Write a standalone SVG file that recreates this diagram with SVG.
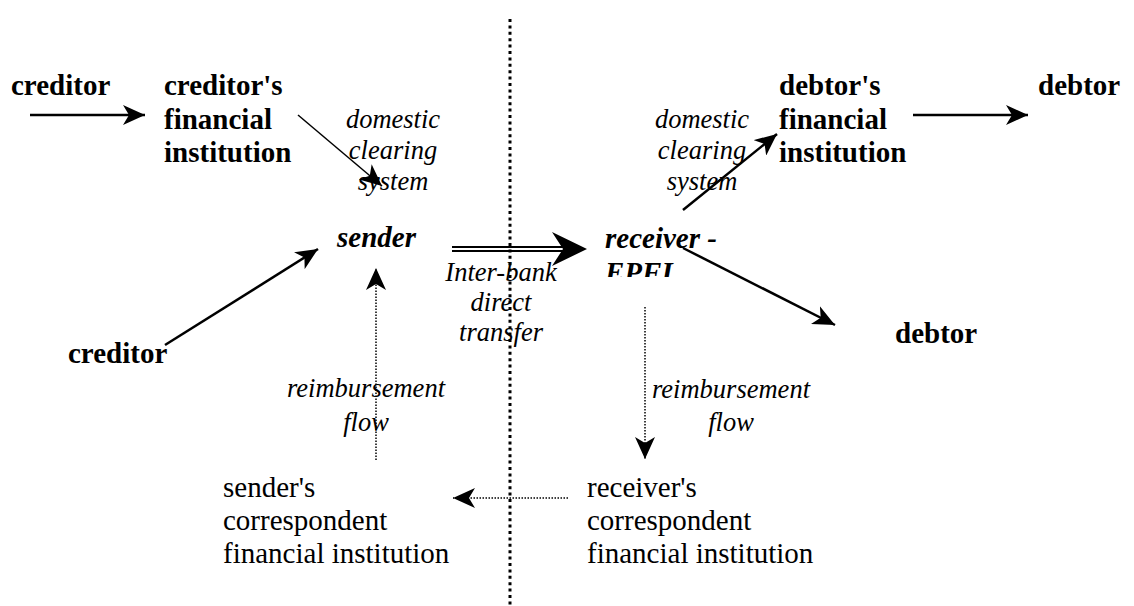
<svg xmlns="http://www.w3.org/2000/svg" width="1134" height="606" viewBox="0 0 1134 606">
<style>
text{font-family:"Liberation Serif","Times New Roman",serif;fill:#000}
.b{font-weight:bold;font-size:29px}
.i{font-style:italic;font-size:26.5px}
.bi{font-weight:bold;font-style:italic;font-size:29px}
.r{font-size:29px}
.c{text-anchor:middle}
.ln{stroke:#000;fill:none;stroke-width:2.5}
.thin{stroke:#000;fill:none;stroke-width:1.5}
.dot{stroke:#000;fill:none;stroke-width:1.5;stroke-dasharray:1.5 1.5}
</style>
<defs>
<marker id="ah" viewBox="0 0 22 20" refX="22" refY="10" markerWidth="22" markerHeight="20" markerUnits="userSpaceOnUse" orient="auto">
<path d="M0,0 L22,10 L0,20 L6,10 Z" fill="#000"/>
</marker>
<clipPath id="epfiClip"><rect x="590" y="255" width="120" height="22"/></clipPath>
</defs>
<line id="divider" x1="510" y1="19" x2="510" y2="606" stroke="#000" stroke-width="3" stroke-dasharray="3 3.4"/>
<g id="connectors">
<line class="ln" x1="30" y1="115" x2="145" y2="115" marker-end="url(#ah)"/>
<line class="thin" x1="298" y1="115" x2="382" y2="186" marker-end="url(#ah)"/>
<line class="ln" x1="165" y1="345" x2="318" y2="249" marker-end="url(#ah)"/>
<line stroke="#000" stroke-width="2" x1="452" y1="247" x2="565" y2="247"/>
<line stroke="#000" stroke-width="2" x1="452" y1="251" x2="565" y2="251"/>
<path d="M587,249 L552,232 L563,249 L552,266 Z" fill="#000"/>
<line class="ln" x1="683" y1="210" x2="777" y2="134" marker-end="url(#ah)"/>
<line class="ln" x1="913" y1="115" x2="1028" y2="115" marker-end="url(#ah)"/>
<line class="ln" x1="683" y1="248" x2="835" y2="325" marker-end="url(#ah)"/>
<line class="dot" x1="376" y1="460" x2="376" y2="268" marker-end="url(#ah)"/>
<line class="dot" x1="645" y1="307" x2="645" y2="459" marker-end="url(#ah)"/>
<line class="dot" x1="568" y1="498" x2="453" y2="498" marker-end="url(#ah)"/>
</g>
<g id="creditor-top"><text class="b" x="11" y="95">creditor</text></g>
<g id="creditor-fi"><text class="b" x="164" y="95">creditor's</text><text class="b" x="164" y="128.5">financial</text><text class="b" x="164" y="162">institution</text></g>
<g id="dcs-left"><text class="i c" x="393" y="128">domestic</text><text class="i c" x="393" y="159">clearing</text><text class="i c" x="393" y="190">system</text></g>
<g id="sender"><text class="bi" x="337" y="247">sender</text></g>
<g id="interbank"><text class="i c" x="501" y="281">Inter-bank</text><text class="i c" x="501" y="311">direct</text><text class="i c" x="501" y="341">transfer</text></g>
<g id="receiver"><text class="bi" x="605" y="248">receiver -</text><text class="bi" x="605" y="282" clip-path="url(#epfiClip)">EPFI</text></g>
<g id="dcs-right"><text class="i c" x="702" y="128">domestic</text><text class="i c" x="702" y="159">clearing</text><text class="i c" x="702" y="190">system</text></g>
<g id="debtor-fi"><text class="b" x="779" y="95">debtor's</text><text class="b" x="779" y="128.5">financial</text><text class="b" x="779" y="162">institution</text></g>
<g id="debtor-top"><text class="b" x="1038" y="95">debtor</text></g>
<g id="debtor-bottom"><text class="b" x="895" y="343">debtor</text></g>
<g id="creditor-bottom"><text class="b" x="68" y="363">creditor</text></g>
<g id="reimb-left"><text class="i c" x="366" y="397">reimbursement</text><text class="i c" x="366" y="431">flow</text></g>
<g id="reimb-right"><text class="i c" x="731" y="398">reimbursement</text><text class="i c" x="731" y="431">flow</text></g>
<g id="sender-corr"><text class="r" x="223" y="497">sender's</text><text class="r" x="223" y="530">correspondent</text><text class="r" x="223" y="563">financial institution</text></g>
<g id="receiver-corr"><text class="r" x="587" y="497">receiver's</text><text class="r" x="587" y="530">correspondent</text><text class="r" x="587" y="563">financial institution</text></g>
</svg>
